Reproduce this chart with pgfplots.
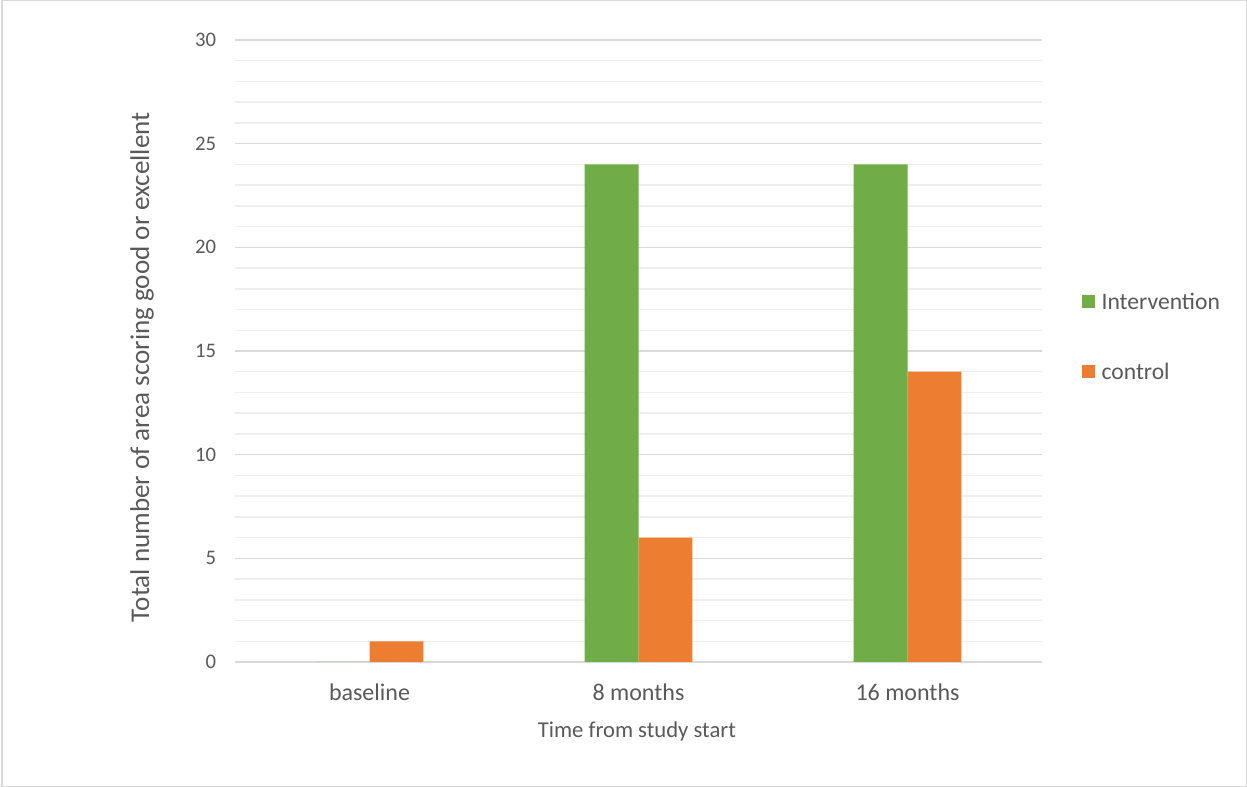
\documentclass[border=0pt]{standalone}
\usepackage{pgfplots}
\pgfplotsset{compat=1.18}
\usepackage{fontspec}
\setmainfont{Carlito}
\definecolor{exgreen}{HTML}{70AD47}
\definecolor{exorange}{HTML}{ED7D31}
\definecolor{txtgray}{HTML}{595959}
\definecolor{majgrid}{HTML}{D9D9D9}
\definecolor{mingrid}{HTML}{EEEEEE}
\pgfplotsset{
  ybar legend/.style={legend image code/.code={\fill[##1] (0pt,-4.2pt) rectangle (9.75pt,5.55pt); \path (14.5pt,0pt);}}
}
\begin{document}
\begin{tikzpicture}
\useasboundingbox (0,0) rectangle (935.25pt,590.25pt);
\draw[majgrid, line width=1pt] (1.5pt,0.5pt) rectangle (934.75pt,589.75pt);
\begin{axis}[
  at={(176.25pt,93.75pt)}, anchor=south west,
  width=605.25pt, height=466.5pt, scale only axis,
  xmin=-0.5, xmax=2.5, ymin=0, ymax=30,
  xtick={0,1,2}, xticklabels={baseline,8 months,16 months},
  ytick={0,5,...,30}, minor y tick num=4,
  ymajorgrids, yminorgrids,
  major grid style={majgrid, line width=1.1pt},
  minor grid style={mingrid, line width=1.1pt},
  axis x line*=bottom, axis y line*=left,
  x axis line style={majgrid, line width=1.1pt, -},
  y axis line style={draw=none},
  major tick length=0pt, minor tick length=0pt,
  /pgf/number format/assume math mode=true,
  yticklabel style={font=\fontsize{15.5pt}{18pt}\selectfont, text=txtgray, inner sep=0pt, xshift=-14pt},
  xticklabel style={font=\fontsize{18pt}{21pt}\selectfont, text=txtgray, inner sep=0pt, yshift=-16pt},
  xlabel={Time from study start},
  ylabel={Total number of area scoring good or excellent},
  xlabel style={font=\fontsize{17pt}{20pt}\selectfont, text=txtgray, at={(axis description cs:0.498,-0.111)}, anchor=center},
  ylabel style={font=\fontsize{20.3pt}{24pt}\selectfont, text=txtgray, at={(axis description cs:-0.1152,0.474)}, anchor=center, rotate=0},
  legend style={draw=none, fill=none, at={(axis description cs:1.0446,0.522)}, anchor=west,
     font=\fontsize{17.7pt}{21pt}\selectfont, text=txtgray, row sep=38.3pt,
     nodes={inner sep=0pt}},
  legend cell align=left,
  ybar, bar width=0.2,
]
\addplot[fill=exgreen, draw=none, bar shift=-0.1] coordinates {(0,0) (1,24) (2,24)};
\addplot[fill=exorange, draw=none, bar shift=0.1] coordinates {(0,1) (1,6) (2,14)};
\legend{Intervention, control}
\end{axis}
\end{tikzpicture}
\end{document}
